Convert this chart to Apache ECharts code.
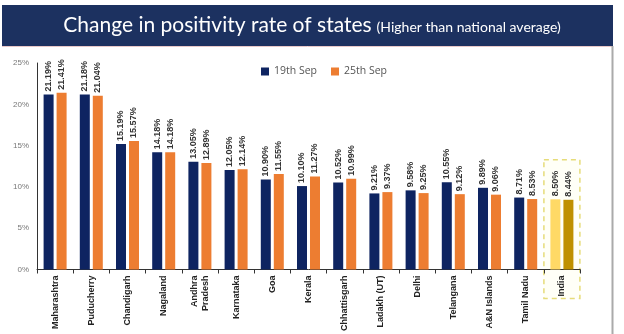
<!DOCTYPE html>
<html><head><meta charset="utf-8">
<script src="https://cdn.jsdelivr.net/npm/echarts@6/dist/echarts.min.js"></script>
<style>html,body{margin:0;padding:0;background:#fff}#c{width:624px;height:334px}</style>
</head><body><div id="c"></div>
<script>
const categories = ['Maharashtra','Puducherry','Chandigarh','Nagaland','Andhra\nPradesh','Karnataka','Goa','Kerala','Chhattisgarh','Ladakh (UT)','Delhi','Telangana','A&N Islands','Tamil Nadu','India'];
const sep19 = [21.19,21.18,15.19,14.18,13.05,12.05,10.90,10.10,10.52,9.21,9.58,10.55,9.89,8.71,8.50];
const sep25 = [21.41,21.04,15.57,14.18,12.89,12.14,11.55,11.27,10.99,9.37,9.25,9.12,9.06,8.53,8.44];
const seriesNames = ['19th Sep','25th Sep'];
const yTicks = [0,5,10,15,20,25];
const highlight = 'India';

const NAVY = '#0E2461', ORANGE = '#ED7D31', LIGHT = '#FFD966', GOLD = '#BF9000';
const chart = echarts.init(document.getElementById('c'));
function mk(vals, base, hl) {
  return vals.map((v,i)=> categories[i]===highlight ? {value:v,itemStyle:{color:hl}} : v);
}
const lbl = {show:true,position:'top',rotate:90,align:'left',verticalAlign:'middle',distance:3,
  fontSize:9,fontWeight:'bold',color:'#333',fontFamily:'Liberation Sans',formatter:p=>p.value.toFixed(2)+'%'};
chart.setOption({
  animation:false,
  title:{left:'center',top:10,text:'{a|Change in positivity rate of states} {b|(Higher than national average)}',
    textStyle:{rich:{a:{fontSize:21,color:'#fff',fontFamily:'Lato',fontWeight:'normal'},b:{fontSize:14,color:'#fff',fontFamily:'Lato',fontWeight:'normal',padding:[3,0,0,0]}}}},
  legend:{left:256,top:61,itemWidth:8,itemHeight:8,itemGap:14,icon:'rect',
    textStyle:{fontSize:10.5,color:'#555',fontFamily:'Open Sans'},data:seriesNames},
  grid:{left:37,right:44,top:63,bottom:63},
  xAxis:{type:'category',data:categories,
    axisLine:{lineStyle:{color:'#333',width:1}},
    axisTick:{show:true,length:4,lineStyle:{color:'#333'}},
    axisLabel:{rotate:90,fontSize:9,fontWeight:'bold',color:'#222',fontFamily:'Liberation Sans',margin:6,interval:0,lineHeight:11}},
  yAxis:{type:'value',min:0,max:25,interval:5,
    axisLine:{show:true,lineStyle:{color:'#333'}},
    axisTick:{show:false},splitLine:{show:false},
    axisLabel:{fontSize:8,color:'#777',margin:8,fontFamily:'Liberation Sans',formatter:v=>v+'%'}},
  series:[
    {name:seriesNames[0],type:'bar',barWidth:10,barGap:'30%',itemStyle:{color:NAVY},label:lbl,data:mk(sep19,NAVY,LIGHT)},
    {name:seriesNames[1],type:'bar',barWidth:10,itemStyle:{color:ORANGE},label:lbl,data:mk(sep25,ORANGE,GOLD)}
  ]
});
const idx = categories.indexOf(highlight);
const p0 = chart.convertToPixel({xAxisIndex:0,yAxisIndex:0},[idx,13.3]);
const p1 = chart.convertToPixel({xAxisIndex:0,yAxisIndex:0},[idx,0]);
const half = 18;
chart.setOption({graphic:[
  {type:'rect',z:-1,shape:{x:2,y:5,width:611,height:41},style:{fill:'#1C3160'}},
  {type:'line',shape:{x1:2,y1:46.5,x2:613,y2:46.5},style:{stroke:'#E9C8C8',lineWidth:1}},
  {type:'line',shape:{x1:612.5,y1:46,x2:612.5,y2:334},style:{stroke:'#AAAAAA',lineWidth:2}},
  {type:'rect',shape:{x:p0[0]-half,y:p0[1],width:half*2,height:p1[1]+29-p0[1]},
   style:{fill:'rgba(255,255,230,0.3)',stroke:'#E6DC7A',lineWidth:1.5,lineDash:[5,4]}}
]});
</script></body></html>
